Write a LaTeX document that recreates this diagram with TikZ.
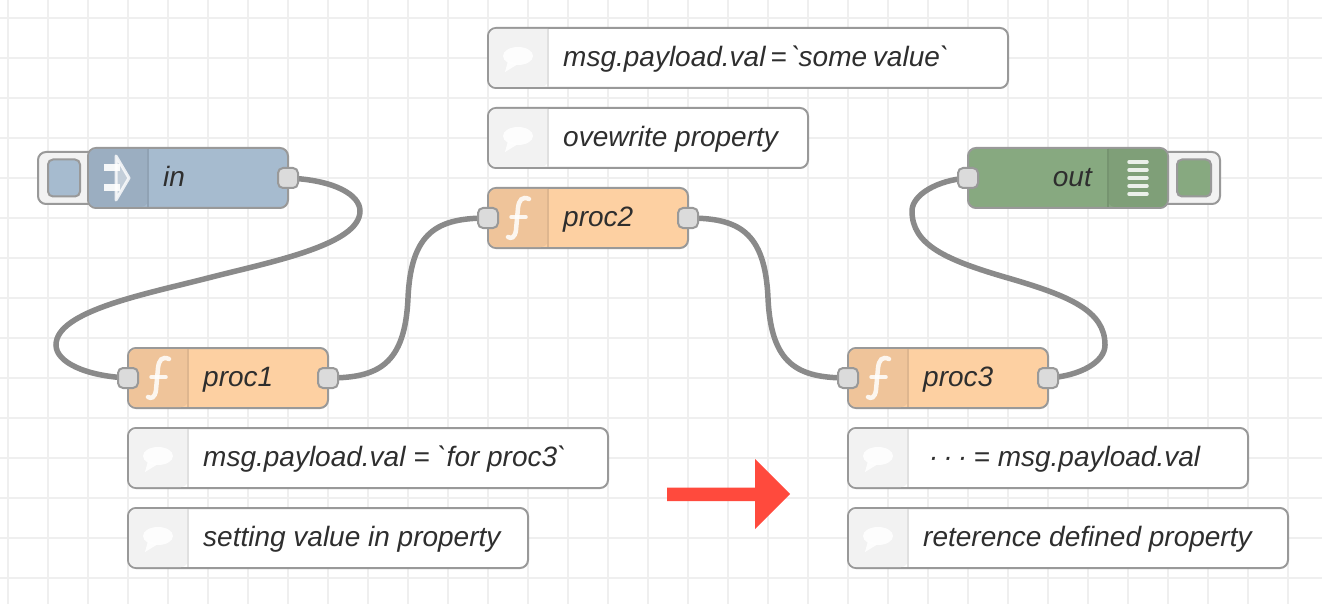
\documentclass[tikz,border=0pt]{standalone}
\usepackage{fontspec}
\usetikzlibrary{backgrounds}
\newfontfamily\nrfont{Liberation Sans}
\definecolor{grille}{HTML}{EFEFEF}
\definecolor{bordure}{HTML}{999999}
\definecolor{fil}{HTML}{8A8A8A}
\definecolor{bleu}{HTML}{A6BBCF}
\definecolor{bleuH}{HTML}{9BAEC1}
\definecolor{orange}{HTML}{FDD0A2}
\definecolor{orangeH}{HTML}{EFC49A}
\definecolor{vert}{HTML}{87A980}
\definecolor{vertH}{HTML}{7F9F78}
\definecolor{gris}{HTML}{F2F2F2}
\definecolor{rouge}{HTML}{FF4A3D}
\begin{document}
\begin{tikzpicture}[x=1pt,y=-1pt]
		% Styles
		\tikzstyle{boite}=[draw=bordure,line width=2pt,rounded corners=8pt,inner sep=0pt,outer sep=0pt,minimum height=60pt]
		\tikzstyle{bouton}=[boite,fill=gris,minimum height=52pt]
		\tikzstyle{touche}=[draw=bordure,line width=2pt,rounded corners=5pt,inner sep=0pt,outer sep=0pt]
		\tikzstyle{port}=[touche,fill=black!14,minimum width=20pt,minimum height=20pt]
		\tikzstyle{texte}=[anchor=base west,inner sep=0pt,text=black!82,font={\nrfont\itshape\fontsize{28}{30}\selectfont}]
		\tikzstyle{fleche}=[draw=fil,line width=5.5pt]
		\tikzstyle{icone}=[white,opacity=.85,line cap=round]
		% Icons
		\tikzset{ficone/.pic={
				\draw[icone,line width=4.5pt] (11,-19) .. controls (4,-22) and (1,-18) .. (0,-10) -- (-2,12) .. controls (-3,20) and (-7,21) .. (-10,19);
				\draw[icone,line width=3.5pt] (-7,-1) -- (8,-1);
			},
			bulle/.pic={
				\fill[icone] (0,-2) ellipse [x radius=15,y radius=9];
				\fill[icone] (-10,3) -- (-13,14) -- (0,6) -- cycle;
			}}
		% Grid
		\useasboundingbox (0,0) rectangle (1322,604);
		\begin{scope}[on background layer]
			\foreach \gx in {8,48,...,1328} {\draw[grille,line width=2pt] (\gx,0) -- (\gx,604);}
			\foreach \gy in {18,58,...,598} {\draw[grille,line width=2pt] (0,\gy) -- (1322,\gy);}
		\end{scope}
		% Buttons
		\node[bouton,minimum width=70pt] (btnIn) at (73,178) {};
		\node[bouton,minimum width=70pt] (btnOut) at (1185,178) {};
		\node[touche,fill=bleu,minimum width=32pt,minimum height=37pt] (carreIn) at (64,178) {};
		\node[touche,fill=vert,minimum width=34pt,minimum height=37pt] (carreOut) at (1194,178) {};
		% Nodes
		\node[boite,fill=bleu,minimum width=200pt] (in) at (188,178) {};
		\node[boite,fill=vert,minimum width=200pt] (out) at (1068,178) {};
		\node[boite,fill=orange,minimum width=200pt] (proc1) at (228,378) {};
		\node[boite,fill=orange,minimum width=200pt] (proc2) at (588,218) {};
		\node[boite,fill=orange,minimum width=200pt] (proc3) at (948,378) {};
		% Comments
		\node[boite,fill=white,minimum width=520pt] (note1) at (748,58) {};
		\node[boite,fill=white,minimum width=320pt] (note2) at (648,138) {};
		\node[boite,fill=white,minimum width=480pt] (note3) at (368,458) {};
		\node[boite,fill=white,minimum width=400pt] (note4) at (328,538) {};
		\node[boite,fill=white,minimum width=400pt] (note5) at (1048,458) {};
		\node[boite,fill=white,minimum width=440pt] (note6) at (1068,538) {};
		% Left headers
		\foreach \n/\coul/\trait in {in/bleuH/bleuH!93!black,proc1/orangeH/orangeH!93!black,proc2/orangeH/orangeH!93!black,proc3/orangeH/orangeH!93!black,note1/gris/black!12,note2/gris/black!12,note3/gris/black!12,note4/gris/black!12,note5/gris/black!12,note6/gris/black!12} {
			\fill[\coul,rounded corners=7pt] ([xshift=60pt,yshift=-1pt]\n.north west) -- ([xshift=1pt,yshift=-1pt]\n.north west) -- ([xshift=1pt,yshift=1pt]\n.south west) -- ([xshift=60pt,yshift=1pt]\n.south west) [sharp corners] -- cycle;
			\draw[\trait,line width=1.5pt] ([xshift=60pt,yshift=-1pt]\n.north west) -- ([xshift=60pt,yshift=1pt]\n.south west);
		}
		% Right header of out
		\fill[vertH,rounded corners=7pt] ([xshift=-60pt,yshift=-1pt]out.north east) -- ([xshift=-1pt,yshift=-1pt]out.north east) -- ([xshift=-1pt,yshift=1pt]out.south east) -- ([xshift=-60pt,yshift=1pt]out.south east) [sharp corners] -- cycle;
		\draw[vertH!93!black,line width=1.5pt] ([xshift=-60pt,yshift=-1pt]out.north east) -- ([xshift=-60pt,yshift=1pt]out.south east);
		% Icons
		\pic at (158,378) {ficone};
		\pic at (518,218) {ficone};
		\pic at (878,378) {ficone};
		\pic at (518,58) {bulle};
		\pic at (518,138) {bulle};
		\pic at (158,458) {bulle};
		\pic at (158,538) {bulle};
		\pic at (878,458) {bulle};
		\pic at (878,538) {bulle};
		\draw[white,opacity=.9,line width=7pt] (104,168) -- (120,168);
		\draw[white,opacity=.9,line width=7pt] (104,188) -- (120,188);
		\draw[white,opacity=.8,line width=3pt,line join=round,fill=white,fill opacity=.4] (116,156) -- (129,178) -- (116,200) -- cycle;
		\foreach \ly in {162,170,178,186,194} {\draw[icone,line width=3.5pt] (1129,\ly) -- (1147,\ly);}
		% Ports
		\node[port] (inS) at (288,178) {};
		\node[port] (outE) at (968,178) {};
		\node[port] (proc1E) at (128,378) {};
		\node[port] (proc1S) at (328,378) {};
		\node[port] (proc2E) at (488,218) {};
		\node[port] (proc2S) at (688,218) {};
		\node[port] (proc3E) at (848,378) {};
		\node[port] (proc3S) at (1048,378) {};
		% Labels
		\node[texte] (txtIn) at (163,186.7) {in};
		\node[texte,anchor=base east] (txtOut) at (1092,186.7) {out};
		\node[texte] (txtProc1) at (203,386.7) {proc1};
		\node[texte] (txtProc2) at (563,226.7) {proc2};
		\node[texte] (txtProc3) at (923,386.7) {proc3};
		\node[texte] (txtNote1) at (563,66.7) {msg.payload.val \kern-3pt= \kern-3pt`\kern-2pt some \kern-2pt value`};
		\node[texte] (txtNote2) at (563,146.7) {ovewrite property};
		\node[texte] (txtNote3) at (203,466.7) {msg.payload.val = `for proc3`};
		\node[texte] (txtNote4) at (203,546.7) {setting value in property};
		\node[texte] (txtNote5) at (926,466.7) {\makebox[14.5pt]{·}\makebox[14.5pt]{·}\makebox[14.5pt]{·}\hspace{4pt}= msg.payload.val};
		\node[texte] (txtNote6) at (923,546.7) {reterence defined property};
		% Wire points
		\coordinate (a1) at (360,211);
		\coordinate (a2) at (208,278);
		\coordinate (a3) at (56,345);
		\coordinate (b1) at (408,298);
		\coordinate (c1) at (768,298);
		\coordinate (d1) at (1105,345);
		\coordinate (d2) at (1008,278);
		\coordinate (d3) at (912,211);
		% Wires
		\begin{scope}[on background layer]
			\draw[fleche] (inS.center) .. controls (335,180) and (360,195) .. (a1) .. controls (360,245) and (270,262) .. (a2) .. controls (146,294) and (56,311) .. (a3) .. controls (56,362) and (85,376) .. (proc1E.center);
			\draw[fleche] (proc1S.center) .. controls (378,378) and (405,365) .. (b1) .. controls (411,231) and (438,218) .. (proc2E.center);
			\draw[fleche] (proc2S.center) .. controls (738,218) and (765,231) .. (c1) .. controls (771,365) and (798,378) .. (proc3E.center);
			\draw[fleche] (proc3S.center) .. controls (1080,376) and (1105,362) .. (d1) .. controls (1105,311) and (1070,296) .. (d2) .. controls (946,260) and (912,245) .. (d3) .. controls (912,195) and (937,180) .. (outE.center);
		\end{scope}
		% Red arrow
		\fill[rouge] (667,487.5) -- (755,487.5) -- (755,459) -- (790,494) -- (755,529) -- (755,501) -- (667,501) -- cycle;
	\end{tikzpicture}
\end{document}
